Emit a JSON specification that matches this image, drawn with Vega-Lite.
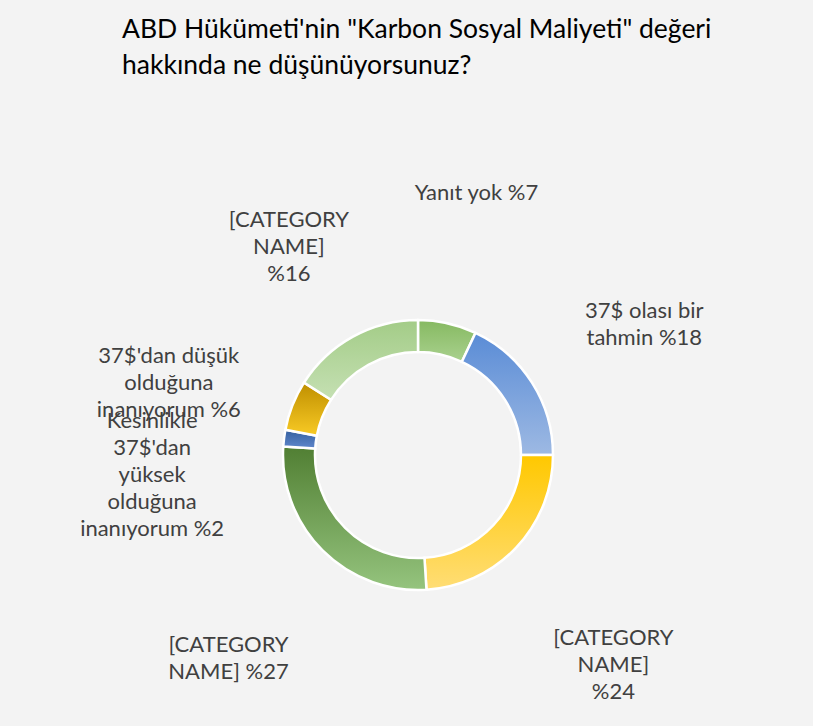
{
  "$schema": "https://vega.github.io/schema/vega-lite/v6.json",
  "autosize": "none",
  "width": 780,
  "height": 534,
  "padding": {"left": 28, "top": 188, "right": 5, "bottom": 4},
  "background": "#f3f3f3",
  "config": {"view": {"stroke": null}},
  "title": {
    "text": ["ABD Hükümeti'nin \"Karbon Sosyal Maliyeti\" değeri", "hakkında ne düşünüyorsunuz?"],
    "anchor": "start",
    "frame": "group",
    "dx": 94,
    "offset": 103,
    "font": "Lato",
    "fontSize": 26.5,
    "fontWeight": "normal",
    "color": "#000000",
    "lineHeight": 36
  },
  "data": {
    "values": [
      {"idx": 1, "category": "Yanıt yok", "value": 7, "label": "Yanıt yok %7"},
      {"idx": 2, "category": "37$ olası bir tahmin", "value": 18, "label": "37$ olası bir\ntahmin %18"},
      {"idx": 3, "category": "[CATEGORY NAME]", "value": 24, "label": "[CATEGORY\nNAME]\n%24"},
      {"idx": 4, "category": "[CATEGORY NAME]", "value": 27, "label": "[CATEGORY\nNAME] %27"},
      {"idx": 5, "category": "Kesinlikle 37$'dan yüksek olduğuna inanıyorum", "value": 2, "label": "Kesinlikle\n37$'dan\nyüksek\nolduğuna\ninanıyorum %2"},
      {"idx": 6, "category": "37$'dan düşük olduğuna inanıyorum", "value": 6, "label": "37$'dan düşük\nolduğuna\ninanıyorum %6"},
      {"idx": 7, "category": "[CATEGORY NAME]", "value": 16, "label": "[CATEGORY\nNAME]\n%16"}
    ]
  },
  "encoding": {
    "theta": {"field": "value", "type": "quantitative", "stack": true},
    "order": {"field": "idx", "type": "quantitative"}
  },
  "layer": [
    {
      "mark": {"type": "arc", "outerRadius": 135, "innerRadius": 103, "stroke": "#ffffff", "strokeWidth": 2.5},
      "encoding": {
        "fill": {
          "condition": [
            {"test": "datum.idx == 1", "value": {"gradient": "linear", "x1": 0, "y1": 0, "x2": 0, "y2": 1, "stops": [{"offset": 0, "color": "#86b961"}, {"offset": 1, "color": "#a9d18e"}]}},
            {"test": "datum.idx == 2", "value": {"gradient": "linear", "x1": 0, "y1": 0, "x2": 0, "y2": 1, "stops": [{"offset": 0, "color": "#5a8cd6"}, {"offset": 1, "color": "#9db9e3"}]}},
            {"test": "datum.idx == 3", "value": {"gradient": "linear", "x1": 0, "y1": 0, "x2": 0, "y2": 1, "stops": [{"offset": 0, "color": "#ffc800"}, {"offset": 1, "color": "#ffdd75"}]}},
            {"test": "datum.idx == 4", "value": {"gradient": "linear", "x1": 0, "y1": 0, "x2": 0, "y2": 1, "stops": [{"offset": 0, "color": "#517f33"}, {"offset": 1, "color": "#95c47e"}]}},
            {"test": "datum.idx == 5", "value": {"gradient": "linear", "x1": 0, "y1": 0, "x2": 0, "y2": 1, "stops": [{"offset": 0, "color": "#35609f"}, {"offset": 1, "color": "#5f87cc"}]}},
            {"test": "datum.idx == 6", "value": {"gradient": "linear", "x1": 0, "y1": 0, "x2": 0, "y2": 1, "stops": [{"offset": 0, "color": "#bf8f00"}, {"offset": 1, "color": "#f8ca25"}]}}
          ],
          "value": {"gradient": "linear", "x1": 0, "y1": 0, "x2": 0, "y2": 1, "stops": [{"offset": 0, "color": "#a3cc87"}, {"offset": 1, "color": "#c5e0b3"}]}
        }
      }
    },
    {
      "mark": {"type": "text", "radius": 268, "lineBreak": "\n", "font": "Lato", "fontSize": 22, "lineHeight": 27, "color": "#404040"},
      "encoding": {"text": {"field": "label", "type": "nominal"}}
    }
  ]
}
